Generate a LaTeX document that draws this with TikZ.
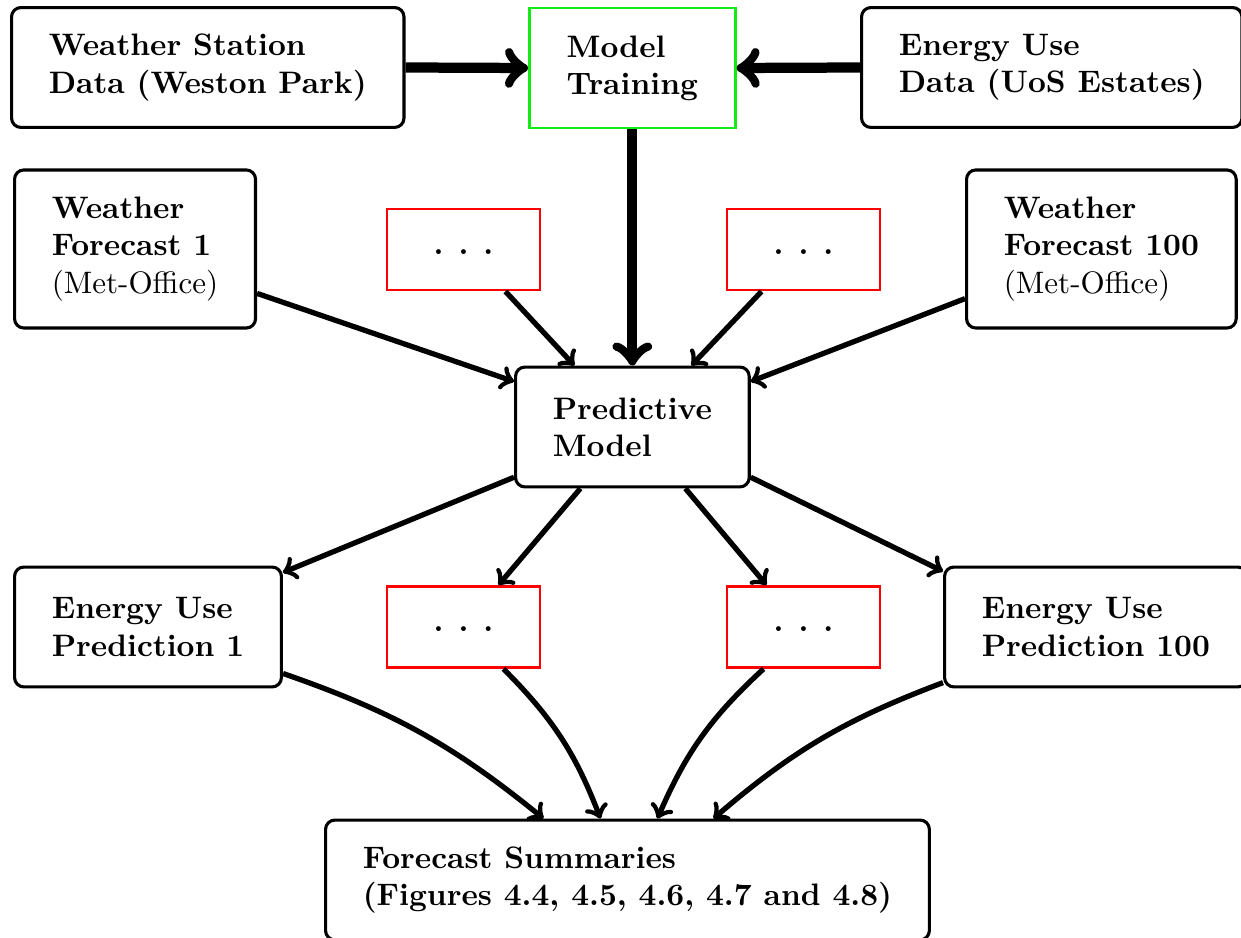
\documentclass[tikz,border=0pt]{standalone}
\usetikzlibrary{calc}
\def\pxu{0.322pt}
\begin{document}
\begin{tikzpicture}[x=\pxu,y=-\pxu,
  box/.style={draw, line width=1pt, rounded corners=3pt, align=left,
    inner xsep=12pt, inner ysep=2pt, font=\bfseries, minimum height=38.6pt, anchor=west},
  tallbox/.style={box, minimum height=50.9pt},
  greenbox/.style={draw={rgb,255:red,20;green,235;blue,20}, line width=0.9pt, align=left,
    inner xsep=12pt, inner ysep=2pt, font=\bfseries, minimum height=38.6pt, anchor=west},
  dotbox/.style={draw=red, line width=0.9pt, minimum width=49.3pt, minimum height=26.1pt,
    text height=3.2pt, text depth=0pt, font=\bfseries},
  arr/.style={->, line width=1.7pt},
  bigarr/.style={->, line width=3.3pt}]
\useasboundingbox (0,0) rectangle (1241,938);

\node[box] (ws) at (10,67.5) {Weather Station\\Data (Weston Park)};
\node[greenbox] (mt) at (528,68) {Model\\Training};
\node[box] (eu) at (860,67.5) {Energy Use\\Data (UoS Estates)};

\node[tallbox] (wf1) at (13,249) {Weather\\Forecast 1\\{\mdseries (Met-Office)}};
\node[dotbox] (d1) at (463.5,249.5) {.\hspace{4.8pt}.\hspace{4.8pt}.};
\node[dotbox] (d2) at (803.5,249.5) {.\hspace{4.8pt}.\hspace{4.8pt}.};
\node[tallbox] (wf100) at (965,249) {Weather\\Forecast 100\\{\mdseries (Met-Office)}};

\node[box] (pm) at (514,427) {Predictive\\Model};

\node[box] (ep1) at (13,627) {Energy Use\\Prediction 1};
\node[dotbox] (d3) at (463.5,627) {.\hspace{4.8pt}.\hspace{4.8pt}.};
\node[dotbox] (d4) at (803.5,627) {.\hspace{4.8pt}.\hspace{4.8pt}.};
\node[box] (ep100) at (943,627) {Energy Use\\Prediction 100};

\node[box] (fs) at (324,880) {Forecast Summaries\\(Figures 4.4, 4.5, 4.6, 4.7 and 4.8)};

\draw[bigarr] (ws.east) -- (mt.west);
\draw[bigarr] (eu.west) -- (mt.west -| mt.east);
\draw[bigarr] (mt.south) -- (mt.south |- pm.north);

\draw[arr] (wf1.-20) -- (pm.159);
\draw[arr] (d1.-45) -- ($(pm.north)+(-58,0)$);
\draw[arr] (d2.-135) -- ($(pm.north)+(59,0)$);
\draw[arr] (wf100.200) -- (pm.21);

\draw[arr] (pm.203) -- (ep1.22);
\draw[arr] ($(pm.south)+(-52,0)$) -- ($(d3.north)+(35,0)$);
\draw[arr] ($(pm.south)+(53,0)$) -- ($(d4.north)+(-37,0)$);
\draw[arr] (pm.-23) -- (ep100.160);

\draw[arr] (ep1.-19) to[bend left=10] ($(fs.north)+(-84,0)$);
\draw[arr] ($(d3.south)+(40,0)$) to[bend left=12] ($(fs.north)+(-27,0)$);
\draw[arr] ($(d4.south)+(-40,0)$) to[bend right=12] ($(fs.north)+(30,0)$);
\draw[arr] (ep100.200) to[bend right=10] ($(fs.north)+(86,0)$);
\end{tikzpicture}
\end{document}
